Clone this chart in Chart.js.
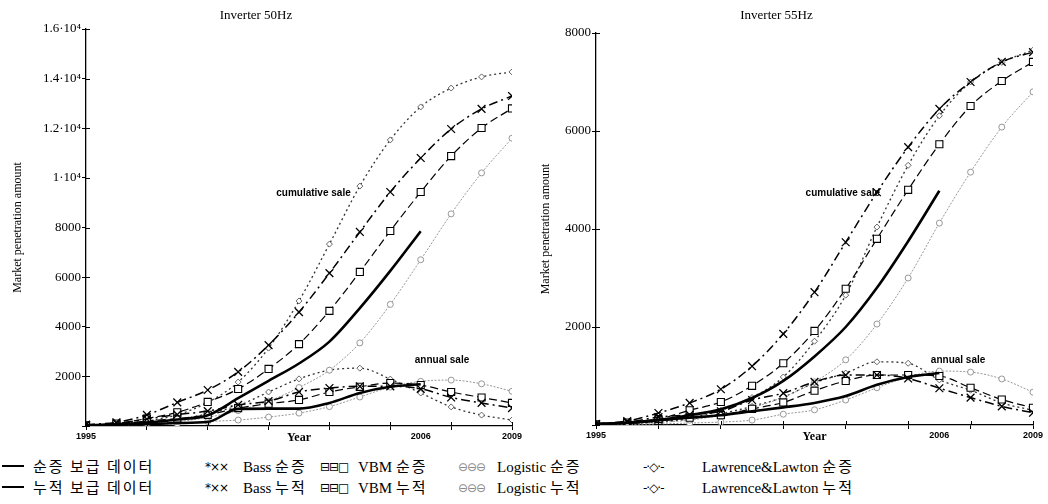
<!DOCTYPE html>
<html>
<head>
<meta charset="utf-8">
<script src="https://cdn.jsdelivr.net/npm/chart.js@4.4.1/dist/chart.umd.min.js"></script>
<style>
  body { margin: 0; width: 1048px; height: 504px; background: #fff; position: relative; overflow: hidden; }
  #c50 { position: absolute; left: 0; top: 0; }
  #c55 { position: absolute; left: 520px; top: 0; }
  .lg { position: absolute; font-family: "Liberation Serif", "Noto Sans CJK KR", serif; font-size: 15px; line-height: 18px; color: #000; white-space: nowrap; }
  .ko { font-family: "Noto Sans CJK KR", sans-serif; letter-spacing: 2px; }
  .sym { font-family: "DejaVu Sans", sans-serif; font-size: 12px; letter-spacing: -1px; }
</style>
</head>
<body>
<canvas id="c50" width="530" height="445"></canvas>
<canvas id="c55" width="528" height="445"></canvas>
<div id="legend"></div>
<script>
// 연도
const years = [1995, 1996, 1997, 1998, 1999, 2000, 2001, 2002, 2003, 2004, 2005, 2006, 2007, 2008, 2009];
const actualYears = years.slice(0, 12);

// Inverter 50Hz
const hz50ActualCum = [20, 70, 140, 260, 430, 1120, 1820, 2520, 3400, 4750, 6250, 7850];
const hz50ActualAnn = [20, 50, 70, 120, 160, 690, 700, 700, 930, 1330, 1580, 1680];
const hz50BassCum = [50, 150, 450, 950, 1450, 2180, 3260, 4590, 6160, 7820, 9430, 10800, 11970, 12780, 13300];
const hz50BassAnn = [50, 110, 280, 460, 600, 850, 1000, 1370, 1530, 1600, 1600, 1500, 1150, 930, 720];
const hz50VbmCum = [30, 100, 300, 550, 970, 1490, 2300, 3300, 4640, 6210, 7860, 9430, 10880, 12010, 12800];
const hz50VbmAnn = [30, 70, 200, 300, 450, 720, 900, 1050, 1370, 1580, 1730, 1650, 1370, 1150, 930];
const hz50LogCum = [10, 30, 80, 170, 350, 620, 1000, 1550, 2250, 3350, 4900, 6700, 8550, 10200, 11600];
const hz50LogAnn = [10, 20, 50, 90, 180, 240, 360, 520, 780, 1170, 1570, 1800, 1850, 1700, 1400];
const hz50LlCum = [20, 80, 200, 450, 950, 1770, 3140, 5040, 7330, 9670, 11530, 12860, 13620, 14070, 14270];
const hz50LlAnn = [20, 60, 120, 250, 500, 820, 1370, 1900, 2250, 2330, 1890, 1330, 770, 440, 240];

// Inverter 55Hz
const hz55ActualCum = [20, 50, 100, 200, 320, 550, 900, 1400, 2000, 2800, 3750, 4780];
const hz55ActualAnn = [20, 40, 100, 150, 200, 280, 360, 450, 590, 820, 980, 1060];
const hz55BassCum = [20, 80, 245, 450, 730, 1200, 1860, 2710, 3730, 4750, 5670, 6450, 7000, 7410, 7610];
const hz55BassAnn = [20, 60, 160, 210, 280, 510, 650, 880, 1020, 1020, 950, 750, 560, 380, 250];
const hz55VbmCum = [10, 50, 120, 300, 470, 800, 1260, 1920, 2780, 3800, 4800, 5730, 6510, 7020, 7410];
const hz55VbmAnn = [10, 40, 80, 150, 200, 330, 460, 700, 900, 1020, 1020, 1000, 760, 520, 350];
const hz55LogCum = [10, 20, 50, 100, 200, 350, 570, 880, 1330, 2060, 3000, 4120, 5160, 6080, 6800];
const hz55LogAnn = [5, 10, 20, 40, 60, 100, 220, 310, 510, 760, 980, 1100, 1080, 940, 670];
const hz55LlCum = [10, 30, 70, 150, 300, 560, 980, 1710, 2650, 4040, 5300, 6310, 7000, 7400, 7650];
const hz55LlAnn = [10, 30, 60, 120, 230, 380, 570, 860, 1060, 1290, 1260, 920, 710, 450, 300];

// 축 라벨
const xTickYears = [1995, 2002, 2006, 2009];
const xTickText = ['1995', 'Year', '2006', '2009'];
const hz50YLabels = ['', '2000', '4000', '6000', '8000', '1·10⁴', '1.2·10⁴', '1.4·10⁴', '1.6·10⁴'];
const hz55YLabels = ['', '2000', '4000', '6000', '8000'];

// 범례
const legendRow1 = ['순증 보급 데이터', 'Bass 순증', 'VBM 순증', 'Logistic 순증', 'Lawrence&Lawton 순증'];
const legendRow2 = ['누적 보급 데이터', 'Bass 누적', 'VBM 누적', 'Logistic 누적', 'Lawrence&Lawton 누적'];

const pts = (xs, ys) => ys.map((y, i) => ({ x: xs[i], y }));

const styles = {
  actual: { borderColor: '#000', borderWidth: 2.6, pointRadius: 0 },
  bass: { borderColor: '#000', borderWidth: 1.5, borderDash: [9, 4, 2, 4], pointStyle: 'crossRot', pointRadius: 5.5, pointBorderColor: '#000', pointBorderWidth: 1.3 },
  vbm: { borderColor: '#000', borderWidth: 1.2, borderDash: [8, 4], pointStyle: 'rect', pointRadius: 5, pointBorderColor: '#000', pointBackgroundColor: '#fff', pointBorderWidth: 1.1 },
  log: { borderColor: '#8c8c8c', borderWidth: 0.9, borderDash: [2, 1.5], pointStyle: 'circle', pointRadius: 3, pointBorderColor: '#8c8c8c', pointBackgroundColor: '#fff', pointBorderWidth: 0.9 },
  ll: { borderColor: '#333', borderWidth: 1.3, borderDash: [2, 3], pointStyle: 'rectRot', pointRadius: 3, pointBorderColor: '#555', pointBackgroundColor: '#fff', pointBorderWidth: 0.9 }
};

const ds = (data, st) => Object.assign({ data, fill: false, tension: 0.25, cubicInterpolationMode: 'monotone' }, st);

// 주석 텍스트
const notesPlugin = {
  id: 'notes',
  afterDatasetsDraw(chart, args, opts) {
    const { ctx, scales } = chart;
    ctx.save();
    ctx.font = 'bold 10px "Liberation Sans", Arial, sans-serif';
    ctx.fillStyle = '#000';
    ctx.textBaseline = 'middle';
    opts.items.forEach(n => {
      ctx.textAlign = n.align;
      ctx.fillText(n.text, scales.x.getPixelForValue(n.x), scales.y.getPixelForValue(n.y));
    });
    ctx.restore();
  }
};

// 축 안쪽 눈금
const innerTicks = {
  id: 'innerTicks',
  afterDraw(chart) {
    const { ctx, scales } = chart;
    ctx.save();
    ctx.strokeStyle = '#000';
    ctx.lineWidth = 1;
    scales.y.ticks.forEach(t => {
      const y = Math.round(scales.y.getPixelForValue(t.value)) + 0.5;
      ctx.beginPath(); ctx.moveTo(scales.y.right, y); ctx.lineTo(scales.y.right + 4, y); ctx.stroke();
    });
    scales.x.ticks.forEach(t => {
      if ((t.value - 1995) % 2 !== 0) return;
      const x = Math.round(scales.x.getPixelForValue(t.value)) + 0.5;
      ctx.beginPath(); ctx.moveTo(x, scales.x.top); ctx.lineTo(x, scales.x.top - 4); ctx.stroke();
    });
    ctx.restore();
  }
};

function makeChart(id, title, series, yMax, yLabels, yWidth, xHeight, titleBottom, padRight, yTitlePad, notes) {
  return new Chart(document.getElementById(id), {
    type: 'line',
    data: {
      datasets: [
        ds(pts(actualYears, series.actualCum), styles.actual),
        ds(pts(actualYears, series.actualAnn), styles.actual),
        ds(pts(years, series.bassCum), styles.bass),
        ds(pts(years, series.bassAnn), styles.bass),
        ds(pts(years, series.vbmCum), styles.vbm),
        ds(pts(years, series.vbmAnn), styles.vbm),
        ds(pts(years, series.logCum), styles.log),
        ds(pts(years, series.logAnn), styles.log),
        ds(pts(years, series.llCum), styles.ll),
        ds(pts(years, series.llAnn), styles.ll)
      ]
    },
    options: {
      responsive: false,
      animation: false,
      layout: { padding: { left: 0, right: padRight, top: 0, bottom: 0 } },
      plugins: {
        legend: { display: false },
        tooltip: { enabled: false },
        title: {
          display: true, text: title, color: '#000',
          font: { family: '"Liberation Serif", "Times New Roman", serif', size: 13, weight: 'normal' },
          padding: { top: 8, bottom: titleBottom }
        },
        notes: { items: notes }
      },
      scales: {
        x: {
          type: 'linear', min: 1995, max: 2009,
          border: { color: '#000', width: 1.3 },
          grid: {
            drawOnChartArea: false, tickLength: 4,
            color: c => ((c.tick.value - 1995) % 2 === 0 ? '#000' : 'rgba(0,0,0,0)')
          },
          ticks: {
            stepSize: 1, autoSkip: false, maxRotation: 0, padding: 1, color: '#000',
            callback: v => { const i = xTickYears.indexOf(v); return i < 0 ? '' : xTickText[i]; },
            font: c => (c.tick && c.tick.value === 2002
              ? { family: '"Liberation Serif", serif', size: 12, weight: 'bold' }
              : { family: '"Liberation Sans", Arial, sans-serif', size: 9, weight: 'bold' })
          },
          afterFit: s => { s.height = xHeight; s.paddingLeft = 0; s.paddingRight = 0; }
        },
        y: {
          min: 0, max: yMax,
          border: { color: '#000', width: 1.3 },
          grid: { drawOnChartArea: false, tickLength: 4, color: '#000' },
          ticks: {
            stepSize: 2000, padding: 1, color: '#000',
            font: { family: '"Liberation Serif", serif', size: 13 },
            callback: v => yLabels[v / 2000] ?? ''
          },
          title: {
            display: true, text: 'Market penetration amount', color: '#000',
            font: { family: '"Liberation Serif", serif', size: 12 },
            padding: { top: yTitlePad, bottom: 0 }
          },
          afterFit: s => { s.width = yWidth; s.paddingTop = 0; s.paddingBottom = 0; }
        }
      }
    },
    plugins: [notesPlugin, innerTicks]
  });
}

makeChart('c50', 'Inverter 50Hz', {
  actualCum: hz50ActualCum, actualAnn: hz50ActualAnn,
  bassCum: hz50BassCum, bassAnn: hz50BassAnn,
  vbmCum: hz50VbmCum, vbmAnn: hz50VbmAnn,
  logCum: hz50LogCum, logAnn: hz50LogAnn,
  llCum: hz50LlCum, llAnn: hz50LlAnn
}, 16000, hz50YLabels, 86, 19, 5.4, 18, 11, [
  { text: 'cumulative sale', x: 2003.7, y: 9400, align: 'right' },
  { text: 'annual sale', x: 2006.7, y: 2660, align: 'center' }
]);

makeChart('c55', 'Inverter 55Hz', {
  actualCum: hz55ActualCum, actualAnn: hz55ActualAnn,
  bassCum: hz55BassCum, bassAnn: hz55BassAnn,
  vbmCum: hz55VbmCum, vbmAnn: hz55VbmAnn,
  logCum: hz55LogCum, logAnn: hz55LogAnn,
  llCum: hz55LlCum, llAnn: hz55LlAnn
}, 8000, hz55YLabels, 76, 20, 9.4, 15, 19, [
  { text: 'cumulative sale', x: 2004.1, y: 4730, align: 'right' },
  { text: 'annual sale', x: 2006.6, y: 1330, align: 'center' }
]);

// 범례 (HTML)
const legendSyms = ['', '*××', '⊟⊟□', '⊖⊖⊖', '-·◇·-'];
const legendSymX = [2, 205, 320, 458, 643];
const legendTextX = [33, 243, 358, 497, 702];
const legendEl = document.getElementById('legend');
[legendRow1, legendRow2].forEach((row, r) => {
  const top = 457 + r * 21;
  row.forEach((label, i) => {
    const sym = document.createElement('div');
    sym.className = 'lg';
    sym.style.left = legendSymX[i] + 'px';
    sym.style.top = top + 'px';
    if (i === 0) {
      sym.innerHTML = '<div style="width:22px;height:0;border-top:2.6px solid #000;margin-top:8px"></div>';
    } else {
      sym.innerHTML = '<span class="sym" style="color:' + (i === 3 ? '#888' : '#000') + '">' + legendSyms[i] + '</span>';
    }
    legendEl.appendChild(sym);
    const txt = document.createElement('div');
    txt.className = 'lg';
    txt.style.left = legendTextX[i] + 'px';
    txt.style.top = top + 'px';
    txt.innerHTML = label.replace(/([가-힣][가-힣 ]*)/g, '<span class="ko">$1</span>');
    legendEl.appendChild(txt);
  });
});
</script>
</body>
</html>
